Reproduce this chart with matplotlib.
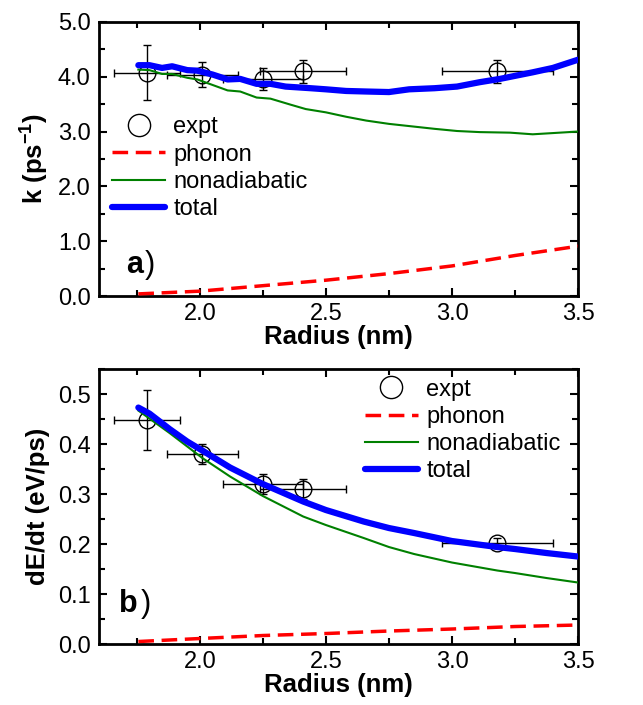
import matplotlib
matplotlib.use("Agg")
import matplotlib.pyplot as plt
import matplotlib.lines as mlines
from matplotlib.ticker import MultipleLocator, FormatStrFormatter

plt.rcParams['font.family'] = ['Liberation Sans', 'DejaVu Sans']
plt.rcParams['mathtext.fontset'] = 'custom'
plt.rcParams['mathtext.bf'] = 'Liberation Sans:bold'
plt.rcParams['mathtext.rm'] = 'Liberation Sans'

# Experimental points
expt_r = [1.79, 2.01, 2.25, 2.41, 3.18]
expt_rerr = [0.13, 0.14, 0.16, 0.17, 0.22]
expt_k = [4.07, 4.04, 3.96, 4.10, 4.10]
expt_kerr = [0.50, 0.23, 0.20, 0.21, 0.21]
expt_de = [0.449, 0.380, 0.320, 0.310, 0.202]
expt_deerr = [0.06, 0.02, 0.02, 0.02, 0.01]

# Panel a curves
a_tot_r = [1.756, 1.80, 1.85, 1.89, 1.95, 1.99, 2.05, 2.11, 2.16, 2.225, 2.28, 2.34, 2.44,
           2.50, 2.58, 2.66, 2.75, 2.83, 2.93, 3.02, 3.11, 3.19, 3.32, 3.40, 3.50]
a_tot_k = [4.21, 4.21, 4.16, 4.19, 4.12, 4.11, 4.04, 3.95, 3.96, 3.87, 3.87, 3.82, 3.79,
           3.77, 3.74, 3.73, 3.72, 3.77, 3.79, 3.82, 3.90, 3.96, 4.08, 4.16, 4.31]
a_na_r = [1.756, 1.80, 1.85, 1.89, 1.95, 1.99, 2.05, 2.11, 2.16, 2.225, 2.28, 2.36, 2.42,
          2.50, 2.58, 2.66, 2.75, 2.85, 2.93, 3.02, 3.11, 3.23, 3.32, 3.50]
a_na_k = [4.13, 4.12, 4.05, 4.05, 3.98, 3.95, 3.85, 3.75, 3.73, 3.62, 3.60, 3.49, 3.41,
          3.35, 3.27, 3.20, 3.14, 3.09, 3.05, 3.01, 2.99, 2.98, 2.95, 3.00]
a_ph_r = [1.756, 2.00, 2.25, 2.50, 2.75, 3.00, 3.25, 3.50]
a_ph_k = [0.04, 0.09, 0.19, 0.29, 0.41, 0.55, 0.74, 0.91]

# Panel b curves
b_tot_r = [1.756, 1.80, 1.88, 1.95, 2.01, 2.12, 2.25, 2.41, 2.50, 2.65, 2.75, 2.85, 3.00,
           3.18, 3.25, 3.375, 3.50]
b_tot_de = [0.473, 0.461, 0.430, 0.405, 0.387, 0.353, 0.320, 0.285, 0.268, 0.245, 0.232,
            0.222, 0.206, 0.194, 0.190, 0.182, 0.175]
b_na_r = [1.756, 1.88, 2.01, 2.12, 2.25, 2.41, 2.50, 2.65, 2.75, 2.85, 3.00, 3.18, 3.25,
          3.375, 3.50]
b_na_de = [0.467, 0.422, 0.372, 0.335, 0.296, 0.255, 0.238, 0.212, 0.194, 0.180, 0.163,
           0.147, 0.142, 0.132, 0.123]
b_ph_r = [1.756, 2.00, 2.25, 2.50, 2.75, 3.00, 3.25, 3.50]
b_ph_de = [0.005, 0.011, 0.017, 0.021, 0.026, 0.030, 0.035, 0.038]

fig = plt.figure(figsize=(6.43, 7.05), dpi=100)
axa = fig.add_axes([0.154, 0.580, 0.745, 0.389])
axb = fig.add_axes([0.154, 0.0865, 0.745, 0.390])

def style(ax, ymaj, ymin, fmt):
    ax.set_xlim(1.6, 3.5)
    ax.xaxis.set_major_locator(MultipleLocator(0.5))
    ax.xaxis.set_minor_locator(MultipleLocator(0.25))
    ax.yaxis.set_major_locator(MultipleLocator(ymaj))
    ax.yaxis.set_minor_locator(MultipleLocator(ymin))
    ax.xaxis.set_major_formatter(FormatStrFormatter('%.1f'))
    ax.yaxis.set_major_formatter(FormatStrFormatter(fmt))
    ax.tick_params(which='both', direction='in', top=True, right=True, width=1.5)
    ax.tick_params(which='major', length=6, labelsize=17)
    ax.tick_params(axis='x', which='major', pad=5)
    ax.tick_params(axis='y', which='major', pad=6)
    ax.tick_params(which='minor', length=4)
    for s in ax.spines.values():
        s.set_linewidth(2)
    ax.set_xlabel('Radius (nm)', fontsize=18.5, fontweight='bold', labelpad=0)

def draw(ax, y_e, y_err, tot_r, tot_y, na_r, na_y, ph_r, ph_y):
    ax.errorbar(expt_r, y_e, xerr=expt_rerr, yerr=y_err, fmt='o', mfc='none', mec='black',
                ms=12, mew=1.0, ecolor='black', elinewidth=1.0, capsize=3, capthick=1.0,
                zorder=2)
    ax.plot(ph_r, ph_y, color='red', lw=2.5, ls=(0, (4.5, 2.2)), zorder=3)
    ax.plot(na_r, na_y, color='green', lw=1.5, zorder=3)
    ax.plot(tot_r, tot_y, color='blue', lw=4.5, solid_capstyle='round', zorder=4)

draw(axa, expt_k, expt_kerr, a_tot_r, a_tot_k, a_na_r, a_na_k, a_ph_r, a_ph_k)
draw(axb, expt_de, expt_deerr, b_tot_r, b_tot_de, b_na_r, b_na_de, b_ph_r, b_ph_de)

style(axa, 1.0, 0.5, '%.1f')
axa.set_ylim(0, 5.0)
axa.set_ylabel(r'k (ps$^{\mathbf{-1}}$)', fontsize=18.5, fontweight='bold', labelpad=6)
style(axb, 0.1, 0.05, '%.1f')
axb.set_ylim(0, 0.55)
axb.set_ylabel('dE/dt (eV/ps)', fontsize=18.5, fontweight='bold', labelpad=6)

def leg(ax, anchor):
    h = [mlines.Line2D([], [], ls='none', marker='o', mfc='none', mec='black', ms=16, mew=1.0),
         mlines.Line2D([], [], color='red', lw=2.5, ls=(0, (4.5, 2.2))),
         mlines.Line2D([], [], color='green', lw=1.5),
         mlines.Line2D([], [], color='blue', lw=4.5, solid_capstyle='round')]
    l = ['expt', 'phonon', 'nonadiabatic', 'total']
    return ax.legend(h, l, loc='upper left', bbox_to_anchor=anchor, frameon=False, fontsize=17,
                     handlelength=2.25, handletextpad=0.35, labelspacing=0.22,
                     borderaxespad=0, borderpad=0)

leg(axa, (0.027, 0.655))
leg(axb, (0.555, 0.965))

axa.text(0.056, 0.084, 'a', transform=axa.transAxes, fontsize=22, fontweight='bold')
axa.text(0.095, 0.084, ')', transform=axa.transAxes, fontsize=22)
axb.text(0.042, 0.115, 'b', transform=axb.transAxes, fontsize=22, fontweight='bold')
axb.text(0.087, 0.115, ')', transform=axb.transAxes, fontsize=22)

fig.savefig('out.png', dpi=100)
